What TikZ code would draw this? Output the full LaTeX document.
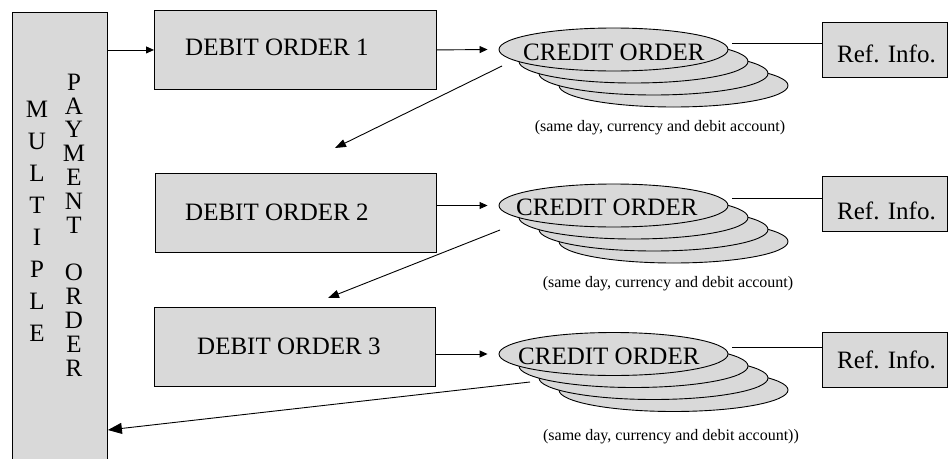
\documentclass[tikz,border=0pt]{standalone}
\usepackage{fontspec}
\setmainfont{Liberation Serif}
\usetikzlibrary{shapes.geometric,arrows.meta}
\definecolor{boxgray}{RGB}{217,217,217}
\tikzset{
  panel/.style={draw=black, fill=boxgray, line width=0.9pt, inner sep=0pt, anchor=north west},
  disc/.style={ellipse, draw=black, fill=boxgray, line width=0.9pt,
               minimum width=229pt, minimum height=43pt, inner sep=0pt},
  bigtext/.style={font=\fontsize{25}{30}\selectfont, inner sep=0pt},
  smalltext/.style={font=\fontsize{16}{19}\selectfont, inner sep=0pt},
  arr/.style={-{Triangle[length=8pt,width=7pt]}, line width=0.9pt},
  diag/.style={-{Triangle[length=11pt,width=8pt]}, line width=0.9pt},
  backarr/.style={-{Triangle[length=14pt,width=11pt]}, line width=0.9pt},
  link/.style={line width=0.9pt},
}
\begin{document}
\begin{tikzpicture}[x=1pt,y=-1pt]
  \clip (0,0) rectangle (948,458);

  % tall panel on the left
  \node[panel, minimum width=95pt, minimum height=470pt] (mpo) at (12,12) {};
  \node[inner sep=0pt, align=center, font=\fontsize{25}{32}\selectfont] (mult)
    at (37,221.5) {M\\U\\L\\T\\I\\P\\L\\E};
  \node[inner sep=0pt, align=center, font=\fontsize{25}{23.83}\selectfont] (pay)
    at (74,225) {P\\A\\Y\\M\\E\\N\\T\\\mbox{}\\O\\R\\D\\E\\R};

  % debit orders
  \node[panel, minimum width=282pt, minimum height=79pt] (d1) at (154,10) {};
  \node[bigtext, anchor=base west] (t1) at (185,55) {DEBIT ORDER 1};
  \node[panel, minimum width=281pt, minimum height=79pt] (d2) at (155,173) {};
  \node[bigtext, anchor=base west] (t2) at (185,220) {DEBIT ORDER 2};
  \node[panel, minimum width=281pt, minimum height=79pt] (d3) at (154,307) {};
  \node[bigtext, anchor=base west] (t3) at (197,354) {DEBIT ORDER 3};

  % stacks of credit orders, drawn back to front
  \foreach \i in {3,2,1,0} {
    \node[disc] (c1-\i) at ({613.5+20*\i},{49.5+12*\i}) {};
  }
  \node[bigtext, anchor=base west] (ct1) at (523,60) {CREDIT ORDER};
  \foreach \i in {3,2,1,0} {
    \node[disc] (c2-\i) at ({613.5+20*\i},{205.5+12*\i}) {};
  }
  \node[bigtext, anchor=base west] (ct2) at (516,215) {CREDIT ORDER};
  \foreach \i in {3,2,1,0} {
    \node[disc] (c3-\i) at ({613.5+20*\i},{354+12*\i}) {};
  }
  \node[bigtext, anchor=base west] (ct3) at (518,364) {CREDIT ORDER};

  % captions
  \node[smalltext] (n1) at (660,128) {(same day, currency and debit account)};
  \node[smalltext] (n2) at (668,284) {(same day, currency and debit account)};
  \node[smalltext] (n3) at (671,437) {(same day, currency and debit account))};

  % reference boxes
  \node[panel, minimum width=125pt, minimum height=55pt] (r1) at (822,22) {};
  \node[bigtext, anchor=base west] (rt1) at (837,62) {Ref. Info.};
  \node[panel, minimum width=125pt, minimum height=55pt] (r2) at (822,176) {};
  \node[bigtext, anchor=base west] (rt2) at (837,219) {Ref. Info.};
  \node[panel, minimum width=125pt, minimum height=55pt] (r3) at (822,332) {};
  \node[bigtext, anchor=base west] (rt3) at (837,368) {Ref. Info.};

  % free ends of the connectors
  \coordinate (l1) at (732,43);
  \coordinate (l2) at (732,198);
  \coordinate (l3) at (732,347);
  \coordinate (s1) at (502,66);
  \coordinate (e1) at (335,148);
  \coordinate (s2) at (500,230);
  \coordinate (e2) at (328,298);
  \coordinate (s3) at (530,382);

  % connectors
  \draw[arr] (mpo.east |- d1.west) -- (d1.west);
  \draw[arr] (d1.east) -- ([xshift=-11pt]c1-0.west);
  \draw[arr] (d2.east |- c2-0.west) -- ([xshift=-11pt]c2-0.west);
  \draw[arr] (d3.east |- c3-0.west) -- ([xshift=-11pt]c3-0.west);
  \draw[link] (l1) -- (l1 -| r1.west);
  \draw[link] (l2) -- (l2 -| r2.west);
  \draw[link] (l3) -- (l3 -| r3.west);
  \draw[diag] (s1) -- (e1);
  \draw[diag] (s2) -- (e2);
  \draw[backarr] (s3) -- (mpo.east |- 0,430);
\end{tikzpicture}
\end{document}
